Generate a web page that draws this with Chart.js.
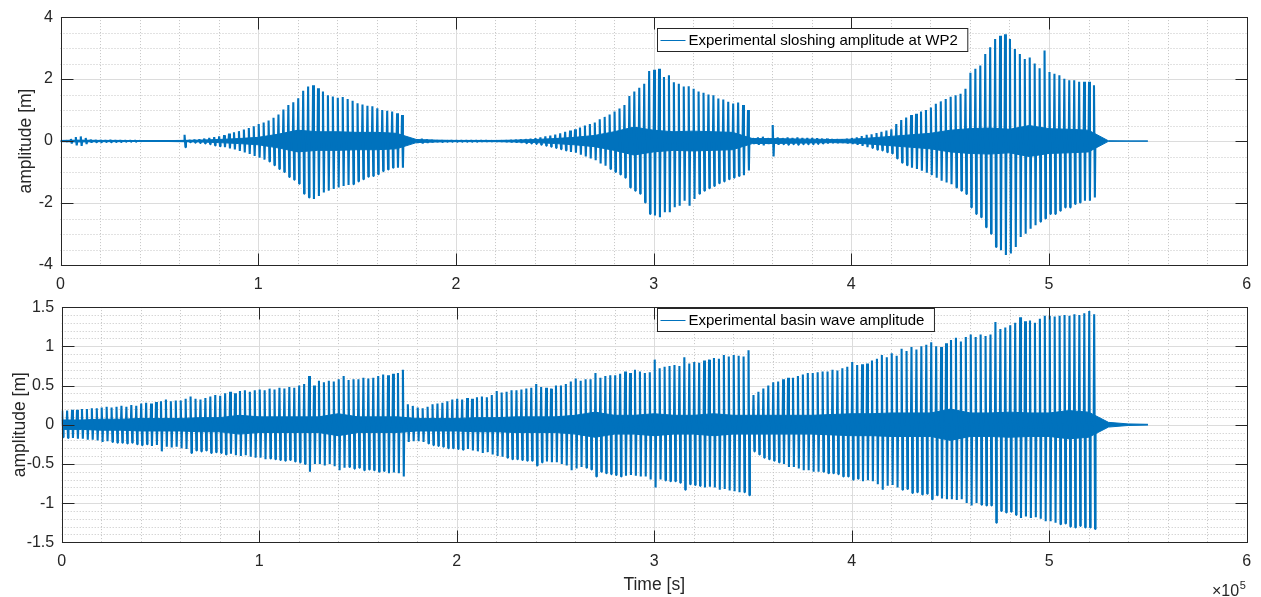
<!DOCTYPE html>
<html>
<head>
<meta charset="utf-8">
<script src="https://cdn.jsdelivr.net/npm/chart.js@4.4.0/dist/chart.umd.min.js"></script>
<style>
  html, body { margin: 0; padding: 0; background: #fff; }
  #wrap { position: relative; width: 1261px; height: 597px; }
  #topBox { position: absolute; left: 0; top: 0; }
  #bottomBox { position: absolute; left: 0; top: 290px; }
</style>
</head>
<body>
<div id="wrap">
  <div id="topBox"><canvas id="sloshChart" width="1261" height="290"></canvas></div>
  <div id="bottomBox"><canvas id="basinChart" width="1261" height="307"></canvas></div>
</div>
<script>
// time between plotted wave peaks, and between core-band samples (s)
const spikeStep = 2500;
const coreStep = 10000;

// x ticks are shown in units of 1e5 s
const xTicks = [0, 1, 2, 3, 4, 5, 6];
const sloshTicks = [-4, -2, 0, 2, 4];
const basinTicks = [-1.5, -1, -0.5, 0, 0.5, 1, 1.5];

// sloshing at WP2: peak / trough of each wave, one per spikeStep from t = 0
const sloshUp = [
  0, 0.02, 0.07, 0.13, 0.15, 0.1, 0.05, 0.04, 0.04, 0.03, 0.04, 0.03,
  0.03, 0.02, 0.02, 0.02, 0.01, 0, 0, 0, 0, 0, 0, 0,
  0, 0.2, 0.04, 0.05, 0.06, 0.08, 0.1, 0.13, 0.15, 0.19, 0.24, 0.28,
  0.32, 0.37, 0.42, 0.48, 0.55, 0.6, 0.66, 0.75, 0.86, 1.02, 1.16, 1.25,
  1.38, 1.62, 1.76, 1.8, 1.7, 1.6, 1.48, 1.44, 1.4, 1.42, 1.36, 1.3,
  1.22, 1.18, 1.14, 1.12, 1.06, 1.0, 0.98, 0.95, 0.9, 0.84, 0.06, 0.05,
  0.06, 0.08, 0.06, 0.04, 0.03, 0.03, 0.02, 0.02, 0.02, 0.02, 0.02, 0.02,
  0.02, 0.02, 0.02, 0.02, 0.02, 0.02, 0.03, 0.04, 0.05, 0.06, 0.07, 0.08,
  0.09, 0.12, 0.15, 0.18, 0.21, 0.25, 0.3, 0.34, 0.38, 0.44, 0.5, 0.55,
  0.6, 0.7, 0.78, 0.86, 0.95, 1.05, 1.16, 1.45, 1.6, 1.72, 1.85, 2.26,
  2.3, 2.33, 2.07, 2.12, 1.9, 1.85, 1.76, 1.77, 1.69, 1.6, 1.56, 1.5,
  1.48, 1.37, 1.34, 1.27, 1.21, 1.24, 1.16, 1.0, 0.1, 0.12, 0.14, 0.1,
  0.52, 0.12, 0.1, 0.12, 0.1, 0.12, 0.1, 0.1, 0.1, 0.09, 0.08, 0.08,
  0.07, 0.07, 0.06, 0.08, 0.1, 0.12, 0.16, 0.2, 0.22, 0.26, 0.3, 0.34,
  0.38, 0.55, 0.68, 0.76, 0.84, 0.88, 0.95, 1.0, 1.08, 1.2, 1.28, 1.36,
  1.43, 1.48, 1.53, 1.69, 2.2, 2.33, 2.44, 2.81, 3.03, 3.29, 3.4, 3.45,
  3.29, 2.97, 2.81, 2.65, 2.7, 2.5, 2.35, 2.92, 2.23, 2.17, 2.12, 2.01,
  1.96, 1.96, 1.91, 1.91, 1.91, 1.8
];
const sloshDown = [
  0, -0.02, -0.08, -0.14, -0.16, -0.1, -0.05, -0.04, -0.04, -0.03, -0.04, -0.03,
  -0.03, -0.02, -0.02, -0.02, -0.01, 0, 0, 0, 0, 0, 0, 0,
  0, -0.2, -0.04, -0.05, -0.06, -0.08, -0.1, -0.14, -0.17, -0.2, -0.24, -0.27,
  -0.32, -0.37, -0.42, -0.48, -0.54, -0.6, -0.66, -0.78, -0.9, -1.0, -1.16, -1.25,
  -1.38, -1.7, -1.82, -1.87, -1.77, -1.66, -1.6, -1.55, -1.5, -1.45, -1.42, -1.39,
  -1.3, -1.23, -1.15, -1.13, -1.07, -0.97, -0.92, -0.86, -0.86, -0.86, -0.06, -0.05,
  -0.06, -0.08, -0.06, -0.04, -0.03, -0.03, -0.02, -0.02, -0.02, -0.02, -0.02, -0.02,
  -0.02, -0.02, -0.02, -0.02, -0.02, -0.02, -0.03, -0.04, -0.05, -0.06, -0.07, -0.08,
  -0.09, -0.12, -0.15, -0.18, -0.22, -0.26, -0.3, -0.35, -0.38, -0.44, -0.5, -0.56,
  -0.62, -0.72, -0.8, -0.9, -1.0, -1.08, -1.18, -1.5, -1.6, -1.7, -1.98, -2.35,
  -2.4, -2.46, -2.3, -2.3, -2.14, -2.09, -1.93, -2.09, -1.87, -1.7, -1.6, -1.52,
  -1.45, -1.36, -1.3, -1.23, -1.18, -1.13, -1.1, -0.95, -0.1, -0.12, -0.14, -0.1,
  -0.5, -0.12, -0.1, -0.12, -0.1, -0.12, -0.1, -0.1, -0.1, -0.09, -0.08, -0.08,
  -0.07, -0.07, -0.06, -0.08, -0.1, -0.12, -0.16, -0.2, -0.22, -0.28, -0.3, -0.36,
  -0.4, -0.56, -0.7, -0.78, -0.86, -0.9, -0.96, -1.02, -1.1, -1.18, -1.28, -1.34,
  -1.39, -1.5, -1.6, -1.71, -2.14, -2.35, -2.46, -2.78, -2.99, -3.42, -3.52, -3.68,
  -3.63, -3.42, -3.1, -2.99, -2.83, -2.72, -2.6, -2.5, -2.35, -2.35, -2.25, -2.14,
  -2.14, -2.03, -1.98, -1.93, -1.93, -1.82
];
// half-width of the dense band around zero, one per coreStep from t = 0
const sloshCore = [
  0.02, 0.03, 0.02, 0.02, 0.01, 0.01, 0.02, 0.03, 0.05, 0.08, 0.12,
  0.22, 0.35, 0.3, 0.3, 0.28, 0.28, 0.25, 0.05, 0.03, 0.02,
  0.02, 0.02, 0.03, 0.05, 0.08, 0.12, 0.18, 0.3, 0.45, 0.35,
  0.3, 0.32, 0.3, 0.28, 0.08, 0.08, 0.07, 0.06, 0.05, 0.06,
  0.1, 0.15, 0.2, 0.25, 0.35, 0.4, 0.42, 0.38, 0.5, 0.4,
  0.38, 0.35, 0.01, 0.005, 0.005
];

// basin wave
const basinUp = [
  0.18, 0.18, 0.19, 0.19, 0.2, 0.2, 0.21, 0.21, 0.22, 0.23, 0.22, 0.23,
  0.24, 0.23, 0.25, 0.24, 0.27, 0.28, 0.27, 0.29, 0.3, 0.32, 0.3, 0.31,
  0.31, 0.33, 0.36, 0.33, 0.32, 0.34, 0.36, 0.38, 0.37, 0.4, 0.42, 0.4,
  0.43, 0.44, 0.42, 0.44, 0.45, 0.44, 0.46, 0.45, 0.47, 0.46, 0.48, 0.47,
  0.5, 0.52, 0.62, 0.5, 0.56, 0.54, 0.56, 0.55, 0.58, 0.62, 0.57, 0.58,
  0.58, 0.6, 0.59, 0.6, 0.62, 0.64, 0.63, 0.65, 0.66, 0.7, 0.26, 0.24,
  0.22, 0.21, 0.23, 0.26, 0.27, 0.28, 0.3, 0.32, 0.33, 0.32, 0.34, 0.33,
  0.35, 0.36, 0.35, 0.38, 0.43, 0.41, 0.42, 0.44, 0.44, 0.45, 0.46, 0.47,
  0.52, 0.48, 0.47, 0.46, 0.5, 0.5, 0.52, 0.55, 0.59, 0.56, 0.58, 0.58,
  0.66, 0.6, 0.62, 0.63, 0.63, 0.65, 0.68, 0.66, 0.7, 0.68, 0.66, 0.67,
  0.83, 0.72, 0.74, 0.75, 0.76, 0.75, 0.86, 0.78, 0.8, 0.79, 0.82, 0.83,
  0.85, 0.84, 0.89, 0.87, 0.89, 0.88, 0.87, 0.95, 0.38, 0.42, 0.46, 0.5,
  0.54, 0.55, 0.58, 0.6, 0.6, 0.62, 0.64, 0.66, 0.66, 0.67, 0.68, 0.68,
  0.7, 0.69, 0.72, 0.74, 0.8, 0.76, 0.77, 0.78, 0.82, 0.84, 0.89, 0.86,
  0.91, 0.88, 0.97, 0.94, 0.99, 0.96, 1.0, 1.02, 1.05, 1.0, 0.99, 1.04,
  1.08, 1.11, 1.06, 1.12, 1.15, 1.12, 1.15, 1.13, 1.15, 1.31, 1.22, 1.24,
  1.27, 1.3, 1.37, 1.32, 1.33, 1.3, 1.35, 1.39, 1.39, 1.38, 1.39, 1.4,
  1.39, 1.41, 1.4, 1.42, 1.45, 1.41
];
const basinDown = [
  -0.16, -0.17, -0.17, -0.18, -0.18, -0.19, -0.19, -0.2, -0.22, -0.21, -0.22, -0.23,
  -0.23, -0.24, -0.23, -0.25, -0.26, -0.25, -0.27, -0.26, -0.34, -0.28, -0.29, -0.28,
  -0.3, -0.31, -0.36, -0.33, -0.34, -0.33, -0.36, -0.35, -0.36, -0.38, -0.37, -0.39,
  -0.4, -0.39, -0.41, -0.42, -0.42, -0.44, -0.43, -0.44, -0.45, -0.46, -0.45, -0.47,
  -0.48, -0.5, -0.6, -0.5, -0.5, -0.52, -0.5, -0.53, -0.58, -0.55, -0.54, -0.56,
  -0.55, -0.58, -0.57, -0.58, -0.6, -0.59, -0.62, -0.61, -0.62, -0.66, -0.22, -0.21,
  -0.21, -0.22, -0.24, -0.26, -0.27, -0.28, -0.3, -0.3, -0.31, -0.32, -0.31, -0.33,
  -0.34, -0.36, -0.35, -0.38, -0.4, -0.41, -0.42, -0.44, -0.44, -0.45, -0.46, -0.46,
  -0.52, -0.48, -0.47, -0.48, -0.48, -0.5, -0.52, -0.58, -0.56, -0.54, -0.55, -0.57,
  -0.66, -0.6, -0.62, -0.63, -0.64, -0.66, -0.65, -0.64, -0.65, -0.66, -0.66, -0.7,
  -0.8, -0.7, -0.71, -0.72, -0.72, -0.74, -0.83, -0.76, -0.77, -0.78, -0.8, -0.79,
  -0.8, -0.83, -0.82, -0.84, -0.85, -0.86, -0.86, -0.9, -0.34, -0.38, -0.42, -0.44,
  -0.46, -0.48, -0.5, -0.54, -0.54, -0.56, -0.58, -0.58, -0.6, -0.6, -0.6, -0.62,
  -0.62, -0.63, -0.66, -0.66, -0.7, -0.69, -0.72, -0.71, -0.72, -0.76, -0.83, -0.78,
  -0.77, -0.8, -0.83, -0.82, -0.87, -0.86, -0.89, -0.88, -0.95, -0.9, -0.94, -0.95,
  -0.95, -0.96, -0.95, -1.0, -1.03, -1.0, -1.02, -1.03, -1.03, -1.25, -1.1, -1.12,
  -1.11, -1.15, -1.19, -1.17, -1.19, -1.18, -1.2, -1.23, -1.23, -1.25, -1.27, -1.26,
  -1.3, -1.31, -1.29, -1.31, -1.31, -1.33
];
const basinCore = [
  0.06, 0.06, 0.07, 0.07, 0.08, 0.08, 0.08, 0.09, 0.09, 0.12,
  0.1, 0.1, 0.1, 0.1, 0.14, 0.1, 0.1, 0.1,
  0.08, 0.08, 0.08, 0.09, 0.09, 0.1, 0.1, 0.1, 0.12, 0.16,
  0.12, 0.12, 0.14, 0.12, 0.12, 0.14, 0.12, 0.12,
  0.12, 0.12, 0.12, 0.13, 0.14, 0.14, 0.15, 0.15, 0.15,
  0.2, 0.15, 0.15, 0.16, 0.15, 0.15, 0.18, 0.16,
  0.03, 0.01, 0.005
];

const lineBlue = '#0072BD';
const axisDark = '#262626';
const fontFamily = "'Liberation Sans', Arial, Helvetica, sans-serif";

function spikePoints(up, down) {
  const pts = [];
  up.forEach((u, i) => {
    const t = i * spikeStep;
    pts.push({x: t, y: 0}, {x: t + 0.1 * spikeStep, y: u},
             {x: t + 0.28 * spikeStep, y: down[i]}, {x: t + 0.38 * spikeStep, y: 0});
  });
  return pts;
}

function corePoints(core, sign) {
  return core.map((c, i) => ({x: i * coreStep, y: sign * c}));
}

// MATLAB-like axes: dotted minor grid, light major grid, box with inward ticks, legend
const matlabAxes = {
  id: 'matlabAxes',
  beforeDatasetsDraw(chart, args, o) {
    const {ctx, chartArea: a, scales: {x, y}} = chart;
    ctx.save();
    ctx.lineWidth = 1;
    ctx.strokeStyle = '#c4c4c4';
    ctx.setLineDash([1, 2]);
    ctx.beginPath();
    const nx = Math.round((x.max - x.min) / o.xMinor);
    for (let i = 1; i < nx; i++) {
      const px = Math.round(x.getPixelForValue(x.min + i * o.xMinor)) + 0.5;
      ctx.moveTo(px, a.top); ctx.lineTo(px, a.bottom);
    }
    const ny = Math.round((y.max - y.min) / o.yMinor);
    for (let i = 1; i < ny; i++) {
      const py = Math.round(y.getPixelForValue(y.min + i * o.yMinor)) + 0.5;
      ctx.moveTo(a.left, py); ctx.lineTo(a.right, py);
    }
    ctx.stroke();
    ctx.setLineDash([]);
    ctx.strokeStyle = '#dcdcdc';
    ctx.beginPath();
    x.ticks.forEach(t => {
      const px = Math.round(x.getPixelForValue(t.value)) + 0.5;
      ctx.moveTo(px, a.top); ctx.lineTo(px, a.bottom);
    });
    y.ticks.forEach(t => {
      const py = Math.round(y.getPixelForValue(t.value)) + 0.5;
      ctx.moveTo(a.left, py); ctx.lineTo(a.right, py);
    });
    ctx.stroke();
    ctx.restore();
  },
  afterDatasetsDraw(chart, args, o) {
    const {ctx, chartArea: a, scales: {x, y}} = chart;
    const L = Math.round(a.left) + 0.5, R = Math.round(a.right) + 0.5;
    const T = Math.round(a.top) + 0.5, B = Math.round(a.bottom) + 0.5;
    ctx.save();
    ctx.strokeStyle = axisDark;
    ctx.lineWidth = 1;
    ctx.strokeRect(L, T, R - L, B - T);
    ctx.beginPath();
    x.ticks.forEach(t => {
      const px = Math.round(x.getPixelForValue(t.value)) + 0.5;
      ctx.moveTo(px, B); ctx.lineTo(px, B - o.tickLen);
      ctx.moveTo(px, T); ctx.lineTo(px, T + o.tickLen);
    });
    y.ticks.forEach(t => {
      const py = Math.round(y.getPixelForValue(t.value)) + 0.5;
      ctx.moveTo(L, py); ctx.lineTo(L + o.tickLen, py);
      ctx.moveTo(R, py); ctx.lineTo(R - o.tickLen, py);
    });
    ctx.stroke();

    // legend box
    const label = chart.data.datasets[0].label;
    ctx.font = '15px ' + fontFamily;
    const w = 31 + ctx.measureText(label).width + 10;
    const lx = o.legendLeft + 0.5, ly = o.legendTop + 0.5;
    ctx.fillStyle = '#fff';
    ctx.fillRect(lx, ly, w, o.legendHeight);
    ctx.strokeRect(lx, ly, w, o.legendHeight);
    const cy = Math.round(ly + o.legendHeight / 2) + 0.5;
    ctx.strokeStyle = lineBlue;
    ctx.beginPath();
    ctx.moveTo(lx + 3, cy); ctx.lineTo(lx + 28, cy);
    ctx.stroke();
    ctx.fillStyle = '#000';
    ctx.textBaseline = 'middle';
    ctx.textAlign = 'left';
    ctx.fillText(label, lx + 31, ly + o.legendHeight / 2 + 0.5);

    if (o.exponent) {
      ctx.fillStyle = axisDark;
      ctx.textAlign = 'right';
      ctx.font = '11px ' + fontFamily;
      const ex = a.right - 1;
      ctx.fillText(o.exponent, ex, chart.height - 11);
      const ew = ctx.measureText(o.exponent).width;
      ctx.font = '16px ' + fontFamily;
      ctx.fillText('\u00d710', ex - ew - 0.5, chart.height - 5);
    }
    ctx.restore();
  }
};

function makeChart(id, label, up, down, core, cfg) {
  return new Chart(document.getElementById(id), {
    type: 'line',
    data: {
      datasets: [
        { label: label, data: spikePoints(up, down), borderColor: lineBlue, borderWidth: 2.1,
          borderJoinStyle: 'bevel', pointRadius: 0, fill: false, tension: 0 },
        { label: 'core', data: corePoints(core, 1), borderColor: lineBlue, backgroundColor: lineBlue,
          borderWidth: 1, pointRadius: 0, fill: '+1', tension: 0 },
        { label: 'core', data: corePoints(core, -1), borderColor: lineBlue,
          borderWidth: 1, pointRadius: 0, fill: false, tension: 0 }
      ]
    },
    options: {
      responsive: false,
      animation: false,
      events: [],
      layout: { padding: cfg.padding },
      plugins: {
        legend: { display: false },
        tooltip: { enabled: false },
        matlabAxes: cfg.axes
      },
      scales: {
        x: {
          type: 'linear', min: xTicks[0] * 1e5, max: xTicks[xTicks.length - 1] * 1e5,
          afterFit: s => { s.height = cfg.xHeight; },
          grid: { display: false, drawTicks: false }, border: { display: false },
          ticks: { stepSize: 1e5, padding: cfg.xPad, color: axisDark, maxRotation: 0, autoSkip: false,
                   font: { family: fontFamily, size: 16 }, callback: v => String(v / 1e5) },
          title: cfg.xTitle
        },
        y: {
          type: 'linear', min: cfg.yTicks[0], max: cfg.yTicks[cfg.yTicks.length - 1],
          afterFit: s => { s.width = cfg.yWidth; },
          afterBuildTicks: s => { s.ticks = cfg.yTicks.map(v => ({ value: v })); },
          grid: { display: false, drawTicks: false }, border: { display: false },
          ticks: { padding: 7.5, color: axisDark, font: { family: fontFamily, size: 16 },
                   callback: v => String(v) },
          title: { display: true, text: 'amplitude [m]', color: axisDark,
                   font: { family: fontFamily, size: 17.5 }, padding: { top: cfg.yTitlePad } }
        }
      }
    },
    plugins: [matlabAxes]
  });
}

makeChart('sloshChart', 'Experimental sloshing amplitude at WP2', sloshUp, sloshDown, sloshCore, {
  padding: { top: 14, right: 14.3, left: 0, bottom: 0 },
  xHeight: 25, xPad: 9.5, yWidth: 60.5, yTitlePad: 16, yTicks: sloshTicks,
  xTitle: { display: false },
  axes: { xMinor: 20000, yMinor: 0.5, tickLen: 12, legendLeft: 657, legendTop: 28, legendHeight: 23 }
});

makeChart('basinChart', 'Experimental basin wave amplitude', basinUp, basinDown, basinCore, {
  padding: { top: 4, right: 12, left: 0, bottom: 0 },
  xHeight: 54.7, xPad: 9.8, yWidth: 61.7, yTitlePad: 9.5, yTicks: basinTicks,
  xTitle: { display: true, text: 'Time [s]', color: axisDark, font: { family: fontFamily, size: 17.5 },
            padding: { top: 0, bottom: 1.5 } },
  axes: { xMinor: 20000, yMinor: 0.1, tickLen: 12, legendLeft: 657, legendTop: 18, legendHeight: 23,
          exponent: '5' }
});
</script>
</body>
</html>
